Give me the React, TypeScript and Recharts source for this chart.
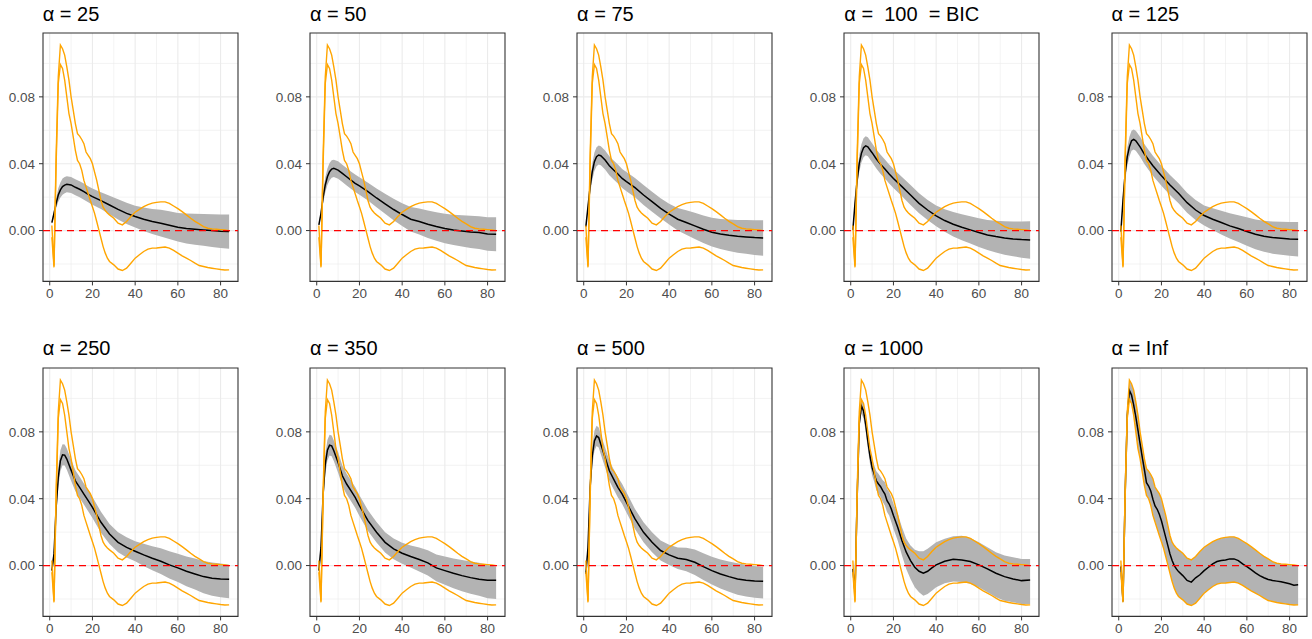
import React from 'react';
import { ComposedChart, Line, Area, XAxis, YAxis, CartesianGrid, ReferenceLine, ReferenceArea } from 'recharts';

// ---------- axes ----------
const X_DOMAIN: [number, number] = [-3.15, 88.15];
const Y_DOMAIN: [number, number] = [-0.0304, 0.1182];
const X_TICKS = [0, 20, 40, 60, 80];
const Y_TICKS = [0, 0.04, 0.08];
const X_MINOR = [10, 30, 50, 70];
const Y_MINOR = [-0.02, 0.02, 0.06, 0.1];

// ---------- unconstrained (orange) bounds and Inf estimate ----------
const X_FINE = [1, 2, 3, 4, 5, 6, 7, 8, 9, 10, 11, 12, 13, 14, 15, 16, 17, 18, 19, 20, 21, 22, 23, 24, 25, 26, 27, 28,
  30, 32, 34, 36, 38, 40, 42, 44, 46, 48, 50, 52, 54, 56, 58, 60, 62, 64, 66, 68, 70, 72, 74, 76, 78, 80, 82, 84];
const ORANGE_UPPER = [0.003, -0.021, 0.045, 0.092, 0.111, 0.1088, 0.105, 0.098, 0.090, 0.080, 0.072, 0.064, 0.058, 0.0565,
  0.0545, 0.052, 0.047, 0.045, 0.043, 0.040, 0.035, 0.030, 0.024, 0.018, 0.014, 0.012, 0.0105, 0.0094,
  0.0074, 0.0044, 0.0034, 0.0054, 0.0084, 0.011, 0.0127, 0.0143, 0.0155, 0.0164, 0.0169, 0.0172, 0.0172, 0.0163,
  0.0147, 0.0131, 0.0113, 0.0094, 0.0074, 0.0055, 0.004, 0.0024, 0.0014, 0.001, 0.0008, 0.0006, 0.0004, 0.0];
const ORANGE_LOWER = [-0.004, -0.022, 0.040, 0.088, 0.0993, 0.097, 0.090, 0.080, 0.070, 0.064, 0.056, 0.048, 0.042, 0.040,
  0.036, 0.030, 0.026, 0.022, 0.018, 0.0143, 0.0103, 0.0054, 0.0004, -0.0046, -0.0096, -0.0135, -0.0165, -0.0185,
  -0.0205, -0.023, -0.0239, -0.0225, -0.0195, -0.0165, -0.0145, -0.0125, -0.0111, -0.0105, -0.0104, -0.0101, -0.0098, -0.0105,
  -0.0119, -0.0135, -0.0151, -0.0165, -0.0179, -0.0195, -0.0209, -0.0215, -0.0221, -0.0225, -0.0229, -0.0233, -0.0236, -0.0235];
const MID_INF = [-0.0005, -0.0215, 0.0425, 0.090, 0.1048, 0.102, 0.096, 0.089, 0.081, 0.073, 0.065, 0.0575, 0.0496, 0.0476,
  0.0446, 0.0397, 0.0357, 0.0337, 0.0307, 0.0268, 0.0218, 0.0169, 0.0119, 0.0069, 0.003, 0.0, -0.002, -0.0036,
  -0.006, -0.0089, -0.0099, -0.0073, -0.0055, -0.003, -0.001, 0.001, 0.0024, 0.003, 0.0034, 0.004, 0.004, 0.003,
  0.001, -0.0006, -0.0024, -0.0044, -0.006, -0.0073, -0.0083, -0.0089, -0.0093, -0.0097, -0.0103, -0.0109, -0.0117, -0.0115];

// ---------- constrained estimates ----------
const X_SMOOTH = [1, 2, 3, 4, 5, 6, 7, 8, 10, 12, 14, 16, 18, 20, 24, 28, 32, 36, 40, 44, 48, 52, 56, 60, 64, 68, 72, 76, 80, 84];

const MID_25 = [0.0048, 0.0103, 0.0163, 0.0213, 0.0243, 0.0263, 0.0272, 0.0277, 0.0273, 0.0259, 0.0247, 0.0233, 0.0217, 0.0203, 0.0179, 0.0153, 0.0127, 0.0103, 0.0084, 0.0068, 0.0054, 0.0044, 0.0032, 0.002, 0.0012, 0.0008, 0.0004, 0.0, -0.0004, -0.0006];
const LO_25 = [0.0038, 0.0083, 0.0133, 0.0173, 0.0198, 0.0215, 0.0224, 0.0229, 0.0225, 0.0211, 0.0199, 0.0185, 0.0169, 0.0155, 0.0129, 0.0098, 0.0067, 0.004, 0.0019, -0.0002, -0.0021, -0.0036, -0.0051, -0.0065, -0.0078, -0.0085, -0.0091, -0.0098, -0.0104, -0.0108];
const HI_25 = [0.0058, 0.0123, 0.0193, 0.0253, 0.0288, 0.0311, 0.0320, 0.0325, 0.0321, 0.0307, 0.0295, 0.0281, 0.0265, 0.0251, 0.0229, 0.0208, 0.0187, 0.0166, 0.0149, 0.0138, 0.0129, 0.0124, 0.0115, 0.0105, 0.0102, 0.0101, 0.0099, 0.0098, 0.0096, 0.0096];

const MID_50 = [0.0034, 0.0103, 0.020, 0.0273, 0.0322, 0.0352, 0.0368, 0.0372, 0.0362, 0.0342, 0.0322, 0.0302, 0.0283, 0.0267, 0.0233, 0.0195, 0.016, 0.0126, 0.0096, 0.0068, 0.0054, 0.0038, 0.0024, 0.0012, 0.0004, -0.0002, -0.0008, -0.0012, -0.002, -0.0022];
const LO_50 = [0.0024, 0.0083, 0.0165, 0.0228, 0.0272, 0.0300, 0.0316, 0.0320, 0.0310, 0.0290, 0.0270, 0.0250, 0.0231, 0.0215, 0.0180, 0.0139, 0.0100, 0.0062, 0.0028, -0.0005, -0.0024, -0.0044, -0.0061, -0.0076, -0.0087, -0.0096, -0.0104, -0.0110, -0.0120, -0.0123];
const HI_50 = [0.0044, 0.0123, 0.0235, 0.0318, 0.0372, 0.0404, 0.0420, 0.0424, 0.0414, 0.0394, 0.0374, 0.0354, 0.0335, 0.0319, 0.0286, 0.0251, 0.0220, 0.0190, 0.0164, 0.0141, 0.0132, 0.0120, 0.0109, 0.0100, 0.0095, 0.0092, 0.0088, 0.0086, 0.0080, 0.0079];

const MID_75 = [0.0024, 0.0143, 0.0263, 0.0352, 0.0412, 0.0442, 0.0452, 0.0448, 0.0422, 0.0388, 0.0362, 0.0338, 0.0312, 0.0293, 0.0257, 0.0213, 0.0173, 0.0133, 0.0098, 0.0068, 0.0048, 0.0028, 0.0008, -0.001, -0.002, -0.0028, -0.0034, -0.0038, -0.0042, -0.0044];
const LO_75 = [0.0014, 0.0118, 0.0223, 0.0302, 0.0357, 0.0385, 0.0395, 0.0391, 0.0365, 0.0331, 0.0305, 0.0281, 0.0255, 0.0236, 0.0199, 0.0153, 0.0113, 0.0073, 0.0036, 0.0001, -0.0025, -0.0050, -0.0074, -0.0096, -0.0110, -0.0122, -0.0132, -0.0139, -0.0146, -0.0150];
const HI_75 = [0.0034, 0.0168, 0.0303, 0.0402, 0.0467, 0.0499, 0.0509, 0.0505, 0.0479, 0.0445, 0.0419, 0.0395, 0.0369, 0.0350, 0.0315, 0.0273, 0.0233, 0.0193, 0.0160, 0.0135, 0.0121, 0.0106, 0.0090, 0.0076, 0.0070, 0.0066, 0.0064, 0.0063, 0.0062, 0.0062];

const MID_100 = [0.0004, 0.0163, 0.0302, 0.0402, 0.0462, 0.0496, 0.0507, 0.0501, 0.0466, 0.0428, 0.0396, 0.0368, 0.0338, 0.0312, 0.0263, 0.0213, 0.0163, 0.0123, 0.0088, 0.006, 0.0038, 0.002, 0.0004, -0.0012, -0.0026, -0.0036, -0.0044, -0.005, -0.0054, -0.0056];
const LO_100 = [-0.0006, 0.0138, 0.0262, 0.0352, 0.0407, 0.0439, 0.0450, 0.0444, 0.0409, 0.0371, 0.0339, 0.0311, 0.0281, 0.0255, 0.0205, 0.0153, 0.0103, 0.0063, 0.0026, -0.0007, -0.0035, -0.0058, -0.0078, -0.0098, -0.0116, -0.0131, -0.0144, -0.0154, -0.0162, -0.0168];
const HI_100 = [0.0014, 0.0188, 0.0342, 0.0452, 0.0517, 0.0553, 0.0564, 0.0558, 0.0523, 0.0485, 0.0453, 0.0425, 0.0395, 0.0369, 0.0321, 0.0273, 0.0223, 0.0183, 0.0150, 0.0127, 0.0111, 0.0098, 0.0086, 0.0074, 0.0064, 0.0059, 0.0056, 0.0054, 0.0054, 0.0056];

const MID_125 = [-0.0006, 0.0183, 0.0342, 0.0442, 0.0501, 0.0537, 0.0545, 0.0537, 0.0501, 0.0458, 0.0422, 0.0388, 0.0358, 0.0328, 0.0273, 0.0223, 0.0167, 0.0123, 0.009, 0.0068, 0.0048, 0.0028, 0.0012, -0.0006, -0.0022, -0.0034, -0.0042, -0.0046, -0.005, -0.0052];
const LO_125 = [-0.0016, 0.0153, 0.0297, 0.0387, 0.0441, 0.0477, 0.0485, 0.0477, 0.0441, 0.0398, 0.0362, 0.0328, 0.0298, 0.0268, 0.0213, 0.0163, 0.0107, 0.0063, 0.0030, 0.0003, -0.0023, -0.0048, -0.0068, -0.0091, -0.0111, -0.0127, -0.0138, -0.0145, -0.0151, -0.0155];
const HI_125 = [0.0004, 0.0213, 0.0387, 0.0497, 0.0561, 0.0597, 0.0605, 0.0597, 0.0561, 0.0518, 0.0482, 0.0448, 0.0418, 0.0388, 0.0333, 0.0283, 0.0227, 0.0183, 0.0150, 0.0133, 0.0119, 0.0104, 0.0092, 0.0079, 0.0067, 0.0059, 0.0054, 0.0053, 0.0051, 0.0051];

const MID_250 = [-0.003, 0.007, 0.0348, 0.0527, 0.0627, 0.0663, 0.0661, 0.0637, 0.0571, 0.0507, 0.0468, 0.0428, 0.0388, 0.0348, 0.0259, 0.0189, 0.0139, 0.0109, 0.0086, 0.0064, 0.0044, 0.0026, 0.0004, -0.0014, -0.0034, -0.005, -0.0066, -0.0076, -0.008, -0.0082];
const LO_250 = [-0.005, 0.003, 0.0298, 0.0467, 0.0564, 0.0600, 0.0598, 0.0574, 0.0508, 0.0444, 0.0405, 0.0365, 0.0325, 0.0285, 0.0196, 0.0129, 0.0079, 0.0049, 0.0026, -0.0002, -0.0028, -0.0051, -0.0077, -0.0099, -0.0123, -0.0143, -0.0165, -0.0180, -0.0190, -0.0195];
const HI_250 = [-0.001, 0.011, 0.0398, 0.0587, 0.0690, 0.0726, 0.0724, 0.0700, 0.0634, 0.0570, 0.0531, 0.0491, 0.0451, 0.0411, 0.0322, 0.0249, 0.0199, 0.0169, 0.0146, 0.0130, 0.0116, 0.0103, 0.0085, 0.0071, 0.0055, 0.0043, 0.0027, 0.0018, 0.0012, 0.0005];

const MID_350 = [-0.003, 0.011, 0.0428, 0.0607, 0.069, 0.072, 0.0716, 0.0687, 0.0617, 0.0537, 0.0488, 0.0448, 0.0408, 0.0358, 0.0269, 0.0199, 0.0139, 0.01, 0.0074, 0.0054, 0.0036, 0.0016, -0.0014, -0.003, -0.0046, -0.006, -0.0072, -0.0082, -0.0088, -0.0088];
const LO_350 = [-0.005, 0.007, 0.0378, 0.0547, 0.0628, 0.0658, 0.0654, 0.0625, 0.0555, 0.0475, 0.0426, 0.0386, 0.0346, 0.0296, 0.0207, 0.0138, 0.0078, 0.0038, 0.0011, -0.0012, -0.0036, -0.0060, -0.0094, -0.0115, -0.0135, -0.0153, -0.0168, -0.0181, -0.0195, -0.0200];
const HI_350 = [-0.001, 0.015, 0.0478, 0.0667, 0.0752, 0.0782, 0.0778, 0.0749, 0.0679, 0.0599, 0.0550, 0.0510, 0.0470, 0.0420, 0.0331, 0.0260, 0.0200, 0.0162, 0.0137, 0.0120, 0.0108, 0.0092, 0.0066, 0.0055, 0.0043, 0.0033, 0.0024, 0.0017, 0.0003, -0.0005];

const MID_500 = [-0.005, 0.011, 0.0468, 0.0657, 0.0746, 0.0776, 0.0766, 0.0726, 0.0647, 0.0567, 0.0517, 0.0468, 0.0428, 0.0378, 0.0279, 0.0199, 0.0139, 0.009, 0.0064, 0.0044, 0.0036, 0.002, -0.0006, -0.003, -0.005, -0.0066, -0.008, -0.0088, -0.0092, -0.0094];
const LO_500 = [-0.007, 0.007, 0.0418, 0.0597, 0.0686, 0.0716, 0.0706, 0.0666, 0.0587, 0.0507, 0.0457, 0.0408, 0.0368, 0.0318, 0.0219, 0.0139, 0.0079, 0.0030, 0.0004, -0.0020, -0.0034, -0.0056, -0.0086, -0.0113, -0.0137, -0.0157, -0.0174, -0.0185, -0.0192, -0.0197];
const HI_500 = [-0.003, 0.015, 0.0518, 0.0717, 0.0806, 0.0836, 0.0826, 0.0786, 0.0707, 0.0627, 0.0577, 0.0528, 0.0488, 0.0438, 0.0339, 0.0259, 0.0199, 0.0150, 0.0124, 0.0108, 0.0106, 0.0096, 0.0074, 0.0053, 0.0037, 0.0025, 0.0014, 0.0005, -0.0002, -0.0009];

const X_1000 = [1, 2, 3, 4, 5, 6, 7, 8, 9, 10, 11, 12, 13, 14, 15, 16, 17, 18, 19, 20, 22, 24, 26, 28, 30, 32, 34, 36, 38, 40, 44, 48, 52, 56, 60, 64, 68, 72, 76, 80, 84];
const MID_1000 = [-0.002, -0.016, 0.040, 0.085, 0.0955, 0.0925, 0.0846, 0.0746, 0.0657, 0.0587, 0.0547, 0.0507, 0.0488, 0.0472, 0.0448, 0.0428, 0.0388, 0.0368, 0.0338, 0.0299, 0.0229, 0.0149, 0.008, 0.003, -0.001, -0.0034, -0.0046, -0.0034, -0.0014, 0.0004, 0.0026, 0.0038, 0.0034, 0.0024, 0.0004, -0.002, -0.0046, -0.0066, -0.008, -0.009, -0.0086];
const LO_1000 = [-0.004, -0.019, 0.036, 0.081, 0.091, 0.088, 0.080, 0.070, 0.061, 0.054, 0.050, 0.045, 0.043, 0.041, 0.038, 0.036, 0.032, 0.030, 0.026, 0.022, 0.015, 0.006, -0.002, -0.008, -0.013, -0.016, -0.018, -0.017, -0.015, -0.013, -0.0105, -0.0095, -0.0098, -0.0108, -0.013, -0.016, -0.019, -0.021, -0.022, -0.023, -0.023];
const HI_1000 = [0.000, -0.013, 0.044, 0.089, 0.1005, 0.097, 0.089, 0.079, 0.070, 0.0635, 0.060, 0.0565, 0.055, 0.053, 0.051, 0.050, 0.046, 0.044, 0.041, 0.037, 0.031, 0.023, 0.016, 0.012, 0.0095, 0.0085, 0.0085, 0.010, 0.012, 0.014, 0.016, 0.0175, 0.0178, 0.0165, 0.014, 0.011, 0.008, 0.006, 0.005, 0.004, 0.004];

const TITLES = ['α = 25', 'α = 50', 'α = 75', 'α =  100  = BIC', 'α = 125', 'α = 250', 'α = 350', 'α = 500', 'α = 1000', 'α = Inf'];

// ---------- layout ----------
const COL_LEFT = [42.7, 309.9, 577.1, 844.3, 1111.5];
const ROW_TOP = [33.3, 367.7];
const PLOT_W = 195;
const PLOT_H = 248.4;
const Y_AXIS_W = 40;
const X_AXIS_H = 30;
const M_TOP = 5;
const M_RIGHT = 5;
const FONT = '"Liberation Sans", Arial, Helvetica, sans-serif';

const rows = (xs: number[], mid: number[], lo: number[], hi: number[]) =>
  xs.map((x, i) => ({ x, mid: mid[i], lo: lo[i], hi: hi[i] }));

const ORANGE_ROWS = X_FINE.map((x, i) => ({ x, upper: ORANGE_UPPER[i], lower: ORANGE_LOWER[i] }));

const PANEL_ROWS = [
  rows(X_SMOOTH, MID_25, LO_25, HI_25),
  rows(X_SMOOTH, MID_50, LO_50, HI_50),
  rows(X_SMOOTH, MID_75, LO_75, HI_75),
  rows(X_SMOOTH, MID_100, LO_100, HI_100),
  rows(X_SMOOTH, MID_125, LO_125, HI_125),
  rows(X_SMOOTH, MID_250, LO_250, HI_250),
  rows(X_SMOOTH, MID_350, LO_350, HI_350),
  rows(X_SMOOTH, MID_500, LO_500, HI_500),
  rows(X_1000, MID_1000, LO_1000, HI_1000),
  rows(X_FINE, MID_INF, ORANGE_LOWER, ORANGE_UPPER),
];

const tickStyle = { fill: '#4D4D4D', fontSize: 13.5, fontFamily: FONT };

function Panel({ index }: { index: number }) {
  const col = index % 5;
  const row = Math.floor(index / 5);
  const left = COL_LEFT[col];
  const top = ROW_TOP[row];
  const data = PANEL_ROWS[index];
  return (
    <>
      <div
        style={{
          position: 'absolute',
          left: left,
          top: top - 29.5,
          fontFamily: FONT,
          fontSize: 20,
          lineHeight: '20px',
          color: '#000',
          whiteSpace: 'pre',
        }}
      >
        {TITLES[index]}
      </div>
      <div style={{ position: 'absolute', left: left - Y_AXIS_W, top: top - M_TOP }}>
        <ComposedChart
          width={Y_AXIS_W + PLOT_W + M_RIGHT}
          height={M_TOP + PLOT_H + X_AXIS_H}
          data={ORANGE_ROWS}
          margin={{ top: M_TOP, right: M_RIGHT, bottom: 0, left: 0 }}
        >
          <CartesianGrid verticalValues={X_MINOR} horizontalValues={Y_MINOR} stroke="#EBEBEB" strokeWidth={0.6} />
          <CartesianGrid verticalValues={X_TICKS} horizontalValues={Y_TICKS} stroke="#EBEBEB" strokeWidth={1.1} />
          <XAxis
            type="number"
            dataKey="x"
            domain={X_DOMAIN}
            allowDataOverflow
            ticks={X_TICKS}
            interval={0}
            height={X_AXIS_H}
            axisLine={false}
            tickLine={{ stroke: '#333333' }}
            tickSize={4}
            tickMargin={3}
            tick={tickStyle}
          />
          <YAxis
            type="number"
            domain={Y_DOMAIN}
            allowDataOverflow
            ticks={Y_TICKS}
            interval={0}
            width={Y_AXIS_W}
            axisLine={false}
            tickLine={{ stroke: '#333333' }}
            tickSize={4}
            tickMargin={4}
            tick={tickStyle}
            tickFormatter={(v: number) => v.toFixed(2)}
          />
          <Area
            data={data}
            dataKey={(d: any) => [d.lo, d.hi]}
            type="linear"
            stroke="none"
            fill="#B3B3B3"
            fillOpacity={1}
            isAnimationActive={false}
          />
          <Line data={data} dataKey="mid" type="linear" stroke="#000000" strokeWidth={1.5} dot={false} isAnimationActive={false} />
          <Line dataKey="upper" type="linear" stroke="#FFA500" strokeWidth={1.4} dot={false} isAnimationActive={false} />
          <Line dataKey="lower" type="linear" stroke="#FFA500" strokeWidth={1.4} dot={false} isAnimationActive={false} />
          <ReferenceLine y={0} stroke="#FF0000" strokeWidth={1.3} strokeDasharray="7 5" />
          <ReferenceArea
            x1={X_DOMAIN[0]}
            x2={X_DOMAIN[1]}
            y1={Y_DOMAIN[0]}
            y2={Y_DOMAIN[1]}
            fill="none"
            stroke="#333333"
            strokeWidth={1.1}
          />
        </ComposedChart>
      </div>
    </>
  );
}

export default function App() {
  return (
    <div style={{ position: 'absolute', left: 0, top: 0, width: 1312, height: 639, background: '#FFFFFF' }}>
      {TITLES.map((_, i) => (
        <Panel key={i} index={i} />
      ))}
    </div>
  );
}
